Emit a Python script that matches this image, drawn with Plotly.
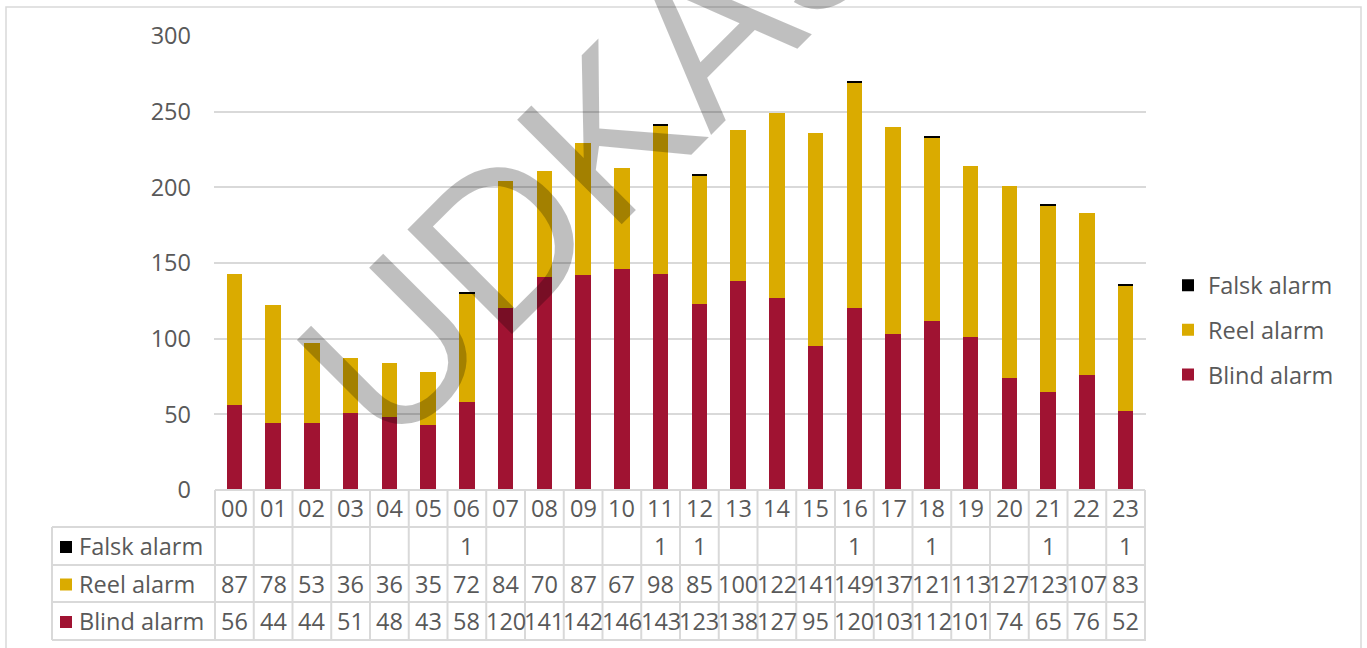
import plotly.graph_objects as go

# timer 00-23
timer = ['00', '01', '02', '03', '04', '05', '06', '07', '08', '09', '10', '11',
         '12', '13', '14', '15', '16', '17', '18', '19', '20', '21', '22', '23']

blind_alarm = [56, 44, 44, 51, 48, 43, 58, 120, 141, 142, 146, 143,
               123, 138, 127, 95, 120, 103, 112, 101, 74, 65, 76, 52]
reel_alarm = [87, 78, 53, 36, 36, 35, 72, 84, 70, 87, 67, 98,
              85, 100, 122, 141, 149, 137, 121, 113, 127, 123, 107, 83]
falsk_alarm = [0, 0, 0, 0, 0, 0, 1, 0, 0, 0, 0, 1,
               1, 0, 0, 0, 1, 0, 1, 0, 0, 1, 0, 1]

farver = {'Falsk alarm': '#000000', 'Reel alarm': '#DAAB00', 'Blind alarm': '#A01332'}
y_ticks = [0, 50, 100, 150, 200, 250, 300]

W, H = 1367, 648
FONT = 'Open Sans'
FS = 23.5
TXT = '#595959'
LINJE = '#D9D9D9'


def px_x(p):
    return p / W


def px_y(p):
    return 1 - p / H


fig = go.Figure()

# stablede søjler (nederst først)
rang = {'Falsk alarm': 1, 'Reel alarm': 2, 'Blind alarm': 3}
for navn, vaerdier in [('Blind alarm', blind_alarm), ('Reel alarm', reel_alarm),
                       ('Falsk alarm', falsk_alarm)]:
    fig.add_trace(go.Bar(
        x=timer, y=vaerdier, name=navn,
        marker_color=farver[navn], marker_line_width=0,
        legendgroup=navn, legendrank=rang[navn],
    ))

shapes = []
annotations = []
tekst = dict(family=FONT, size=FS, color=TXT)

# tabel
row_edges = [490, 527, 565, 602, 640]
rows = [('Falsk alarm', falsk_alarm), ('Reel alarm', reel_alarm), ('Blind alarm', blind_alarm)]

# time-overskrifter
for t in timer:
    annotations.append(dict(x=t, y=px_y(508), xref='x', yref='paper', text=t,
                            xanchor='center', yanchor='middle', showarrow=False, font=tekst))

for r, (navn, vaerdier) in enumerate(rows):
    yc = (row_edges[r + 1] + row_edges[r + 2]) / 2
    for t, v in zip(timer, vaerdier):
        if v:
            annotations.append(dict(x=t, y=px_y(yc), xref='x', yref='paper', text=str(v),
                                    xanchor='center', yanchor='middle', showarrow=False,
                                    font=tekst))
    # etiket og farvefelt
    annotations.append(dict(x=px_x(77), y=px_y(yc), xref='paper', yref='paper', text=navn,
                            xanchor='left', yanchor='middle', showarrow=False, font=tekst))
    shapes.append(dict(type='rect', xref='paper', yref='paper',
                       x0=px_x(60), x1=px_x(72), y0=px_y(yc - 5), y1=px_y(yc + 7),
                       fillcolor=farver[navn], line_width=0))

# vandrette linjer i tabellen
shapes.append(dict(type='line', xref='x', yref='paper', x0=-0.5, x1=len(timer) - 0.5,
                   y0=px_y(490), y1=px_y(490), line=dict(color=LINJE, width=2)))
for e in row_edges[1:]:
    shapes.append(dict(type='line', xref='paper', yref='paper', x0=px_x(52), x1=px_x(1146),
                       y0=px_y(e), y1=px_y(e), line=dict(color=LINJE, width=2)))
# lodrette linjer
for i in range(len(timer) + 1):
    shapes.append(dict(type='line', xref='x', yref='paper', x0=i - 0.5, x1=i - 0.5,
                       y0=px_y(490), y1=px_y(640), line=dict(color=LINJE, width=2)))
shapes.append(dict(type='line', xref='paper', yref='paper', x0=px_x(52), x1=px_x(52),
                   y0=px_y(527), y1=px_y(640), line=dict(color=LINJE, width=2)))

# ydre ramme
shapes.append(dict(type='rect', xref='paper', yref='paper', x0=px_x(6), x1=px_x(1361),
                   y0=-0.05, y1=px_y(7), line=dict(color=LINJE, width=1.5), layer='below'))

# vandmærke
annotations.append(dict(x=(645 - 214) / 932, y=(490 - 95) / 454,
                        xref='x domain', yref='y domain', text='UDKAST',
                        xanchor='center', yanchor='middle', textangle=-45, showarrow=False,
                        font=dict(family='Liberation Sans', size=215, color='rgba(0,0,0,0.25)')))

fig.update_layout(
    width=W, height=H,
    margin=dict(l=0, r=0, t=0, b=0, autoexpand=False),
    barmode='stack', bargap=0.6,
    plot_bgcolor='white', paper_bgcolor='white',
    font=tekst,
    xaxis=dict(domain=[px_x(214), px_x(1146)], showticklabels=False, showgrid=False,
               zeroline=False, showline=False, ticks='', automargin=False),
    yaxis=dict(domain=[px_y(490), px_y(36)], range=[0, 300], tickvals=y_ticks,
               showgrid=True, gridcolor=LINJE, gridwidth=1.5, zeroline=False,
               ticklabelstandoff=22, tickfont=tekst, automargin=False),
    legend=dict(x=px_x(1168), y=px_y(330), xanchor='left', yanchor='middle',
                traceorder='grouped', tracegroupgap=11, font=tekst),
    shapes=shapes,
    annotations=annotations,
)

fig.write_html("out.html", config={'displayModeBar': False},
               post_script="document.body.style.margin='0';")
